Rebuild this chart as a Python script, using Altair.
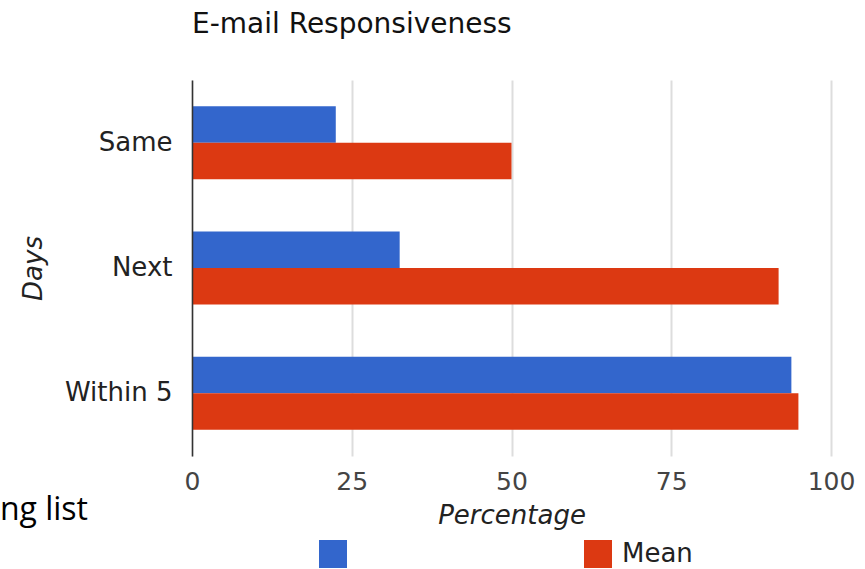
import altair as alt
import pandas as pd

title_text = "E-mail Responsiveness"
categories = ["Same", "Next", "Within 5"]
series = ["", "Mean"]
values_first = [22.5, 32.5, 93.8]
values_mean = [50, 91.8, 94.9]
colors = ["#3366CC", "#DC3912"]
x_ticks = [0, 25, 50, 75, 100]
x_title = "Percentage"
y_title = "Days"
stray_text = ["ng list"]

rows = []
for c, a, b in zip(categories, values_first, values_mean):
    rows.append({"Days": c, "Series": series[0], "Value": a})
    rows.append({"Days": c, "Series": series[1], "Value": b})
df = pd.DataFrame(rows)

bars = alt.Chart(df).mark_bar().encode(
    y=alt.Y(
        "Days:N",
        sort=categories,
        scale=alt.Scale(paddingInner=0.417, paddingOuter=0.2085),
        axis=alt.Axis(
            title=y_title, labelFontSize=26, labelPadding=20, ticks=False,
            domainColor="#333", domainWidth=1.5, labelColor="#222",
            titleFontStyle="italic", titleFontSize=26, titleFontWeight="normal",
            titleColor="#222", titleX=-159, titleY=188, titleAngle=270,
            titleBaseline="middle", titleAlign="center", zindex=1,
        ),
    ),
    yOffset=alt.YOffset("Series:N", sort=series,
                        scale=alt.Scale(domain=series, paddingInner=0, paddingOuter=0)),
    x=alt.X(
        "Value:Q",
        scale=alt.Scale(domain=[0, 100], nice=False),
        axis=alt.Axis(
            values=x_ticks, title=x_title, grid=True, gridColor="#dddddd", gridWidth=2,
            domain=False, ticks=False, labelFontSize=25, labelPadding=13, labelColor="#444",
            labelFlush=False,
            titleFontStyle="italic", titleFontSize=26, titleFontWeight="normal",
            titleColor="#222", titleY=67, titleBaseline="alphabetic",
        ),
    ),
    color=alt.Color(
        "Series:N",
        scale=alt.Scale(domain=series, range=colors),
        legend=alt.Legend(
            title=None, orient="none", legendX=127, legendY=460, direction="horizontal",
            symbolType="square", symbolSize=784, symbolStrokeWidth=0, symbolOpacity=1,
            labelFontSize=26, labelOffset=10, columnPadding=227, padding=0,
            labelColor="#222",
        ),
    ),
)

stray = alt.Chart(pd.DataFrame({"t": stray_text})).mark_text(
    font="Open Sans", fontSize=32, align="right", baseline="alphabetic", color="#000"
).encode(x=alt.value(-104), y=alt.value(440), text="t:N")

chart = alt.layer(bars, stray).properties(
    width=639,
    height=376,
    title=alt.TitleParams(title_text, anchor="start", fontSize=28, fontWeight="normal",
                          color="#111", offset=19, baseline="alphabetic", frame="group"),
    autosize=alt.AutoSizeParams(type="none"),
    padding={"left": 192, "top": 80, "right": 34, "bottom": 113},
).configure(font="DejaVu Sans").configure_view(stroke=None)

chart.save("out.html", embed_options={"renderer": "svg", "actions": False})
